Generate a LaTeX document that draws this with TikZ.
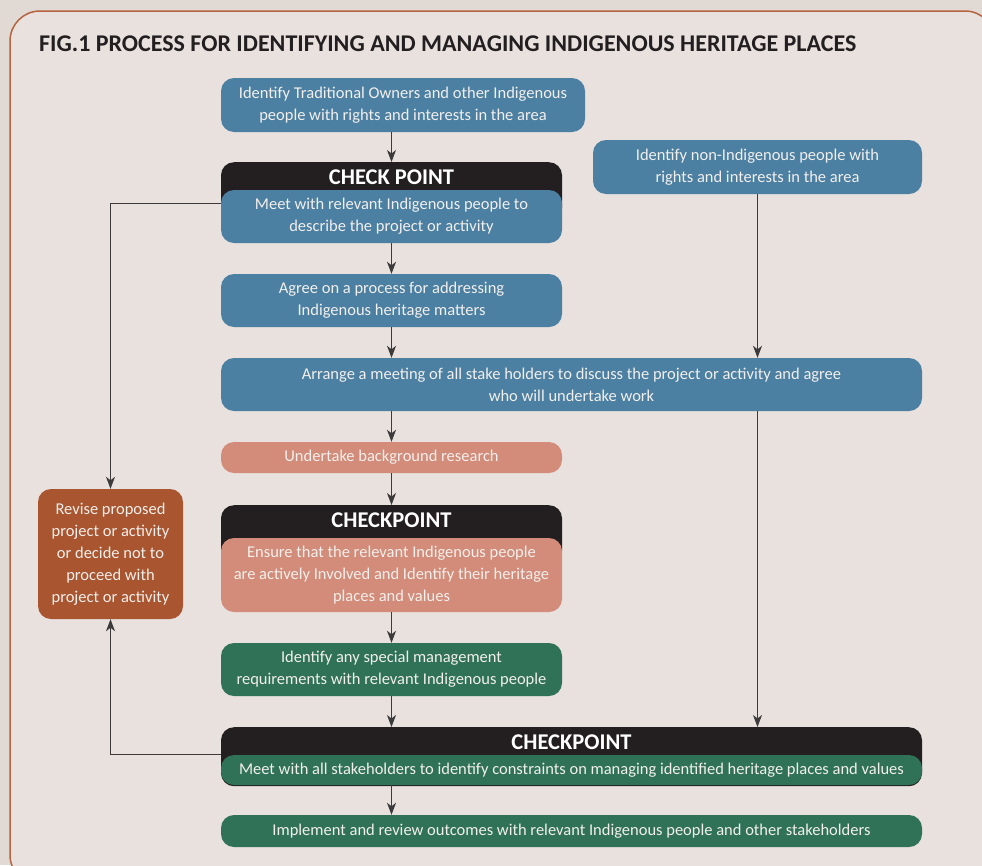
\documentclass[tikz,border=0pt]{standalone}
\usepackage{fontspec}
\setmainfont{Carlito}
\usetikzlibrary{positioning, arrows.meta}

\definecolor{pagebg}{HTML}{E1D9D3}
\definecolor{panelbg}{HTML}{E8E1DE}
\definecolor{framebrown}{HTML}{B5643F}
\definecolor{stepblue}{HTML}{4B80A3}
\definecolor{stepsalmon}{HTML}{D38C79}
\definecolor{stepgreen}{HTML}{2F7257}
\definecolor{steprust}{HTML}{A9552F}
\definecolor{cpblack}{HTML}{231F20}
\definecolor{steptext}{HTML}{F3EFEC}
\definecolor{linkgrey}{HTML}{3C3A3A}

\tikzset{
    box/.style={rounded corners=13pt, text=steptext, align=center, inner sep=0pt,
        font=\fontsize{16.5}{22}\selectfont},
    bluebox/.style={box, fill=stepblue},
    salmonbox/.style={box, fill=stepsalmon},
    greenbox/.style={box, fill=stepgreen},
    rustbox/.style={box, fill=steprust},
    cphead/.style={rounded corners=13pt, fill=cpblack, text=white, anchor=north,
        inner xsep=0pt, inner ysep=7pt, text height=15pt, text depth=30pt,
        font=\bfseries\fontsize{22.5}{22.5}\selectfont},
    link/.style={draw=linkgrey, line width=1pt, -{Stealth[length=12pt, width=9pt, inset=3.5pt]}}
}

\begin{document}
\begin{tikzpicture}[x=1pt, y=-1pt]
    \useasboundingbox (0,0) rectangle (982,865);
    \fill[pagebg] (0,0) rectangle (982,865);
    \begin{scope}
        \clip (0,0) rectangle (982,865);
        \draw[framebrown, line width=1.5pt, fill=panelbg, rounded corners=30pt] (10,11) rectangle (995,885);
    \end{scope}

    \node[anchor=base west, inner xsep=0pt, text=cpblack, font=\bfseries\fontsize{24}{24}\selectfont] (title) at (39,51)
        {FIG.1 PROCESS FOR IDENTIFYING AND MANAGING INDIGENOUS HERITAGE PLACES};

    % main column
    \node[bluebox, minimum width=364pt, minimum height=54pt] (owners) at (403,105)
        {Identify Traditional Owners and other Indigenous\\people with rights and interests in the area};
    \node[bluebox, minimum width=329pt, minimum height=54pt] (nonind) at (757.5,167)
        {Identify non-Indigenous people with\\rights and interests in the area};

    \node[cphead, minimum width=341pt] (cpa) at (391.5,162) {CHECK POINT};
    \node[bluebox, minimum width=341pt, minimum height=53pt] (meet) at (391.5,216.5)
        {Meet with relevant Indigenous people to\\describe the project or activity};

    \node[bluebox, minimum width=341pt, minimum height=53pt] (agree) at (391.5,300.5)
        {Agree on a process for addressing\\Indigenous heritage matters};

    \node[bluebox, minimum width=701pt, minimum height=53pt] (arrange) at (571.5,384.5)
        {Arrange a meeting of all stake holders to discuss the project or activity and agree\\who will undertake work};

    \node[salmonbox, minimum width=341pt, minimum height=31pt] (research) at (391.5,457.5)
        {Undertake background research};

    \node[cphead, minimum width=341pt] (cpb) at (391.5,505) {CHECKPOINT};
    \node[salmonbox, minimum width=341pt, minimum height=74pt] (ensure) at (391.5,575)
        {Ensure that the relevant Indigenous people\\are actively Involved and Identify their heritage\\places and values};

    \node[greenbox, minimum width=341pt, minimum height=53pt] (special) at (391.5,669.5)
        {Identify any special management\\requirements with relevant Indigenous people};

    \node[cphead, minimum width=701pt] (cpc) at (571.5,727) {CHECKPOINT};
    \node[greenbox, minimum width=701pt, minimum height=30pt] (constraints) at (571.5,770)
        {Meet with all stakeholders to identify constraints on managing identified heritage places and values};

    \node[greenbox, minimum width=701pt, minimum height=32pt] (implement) at (571.5,831)
        {Implement and review outcomes with relevant Indigenous people and other stakeholders};

    % side box
    \node[rustbox, minimum width=145pt, minimum height=130pt] (revise) at (110.5,554)
        {Revise proposed\\project or activity\\or decide not to\\proceed with\\project or activity};

    % connectors
    \draw[link] (owners.south -| meet) -- (cpa.north);
    \draw[link] (meet) -- (agree);
    \draw[link] (agree) -- (agree |- arrange.north);
    \draw[link] (agree |- arrange.south) -- (research);
    \draw[link] (research) -- (cpb.north);
    \draw[link] (ensure) -- (special);
    \draw[link] (special) -- (special |- cpc.north);
    \draw[link] (special |- constraints.south) -- (special |- implement.north);

    \draw[link] (nonind) -- (nonind |- arrange.north);
    \draw[link] (nonind |- arrange.south) -- (nonind |- cpc.north);

    \draw[link] ([yshift=13pt]meet.west) -| (revise.north);
    \draw[link] ([yshift=2pt]cpc.west) -| (revise.south);
\end{tikzpicture}
\end{document}
